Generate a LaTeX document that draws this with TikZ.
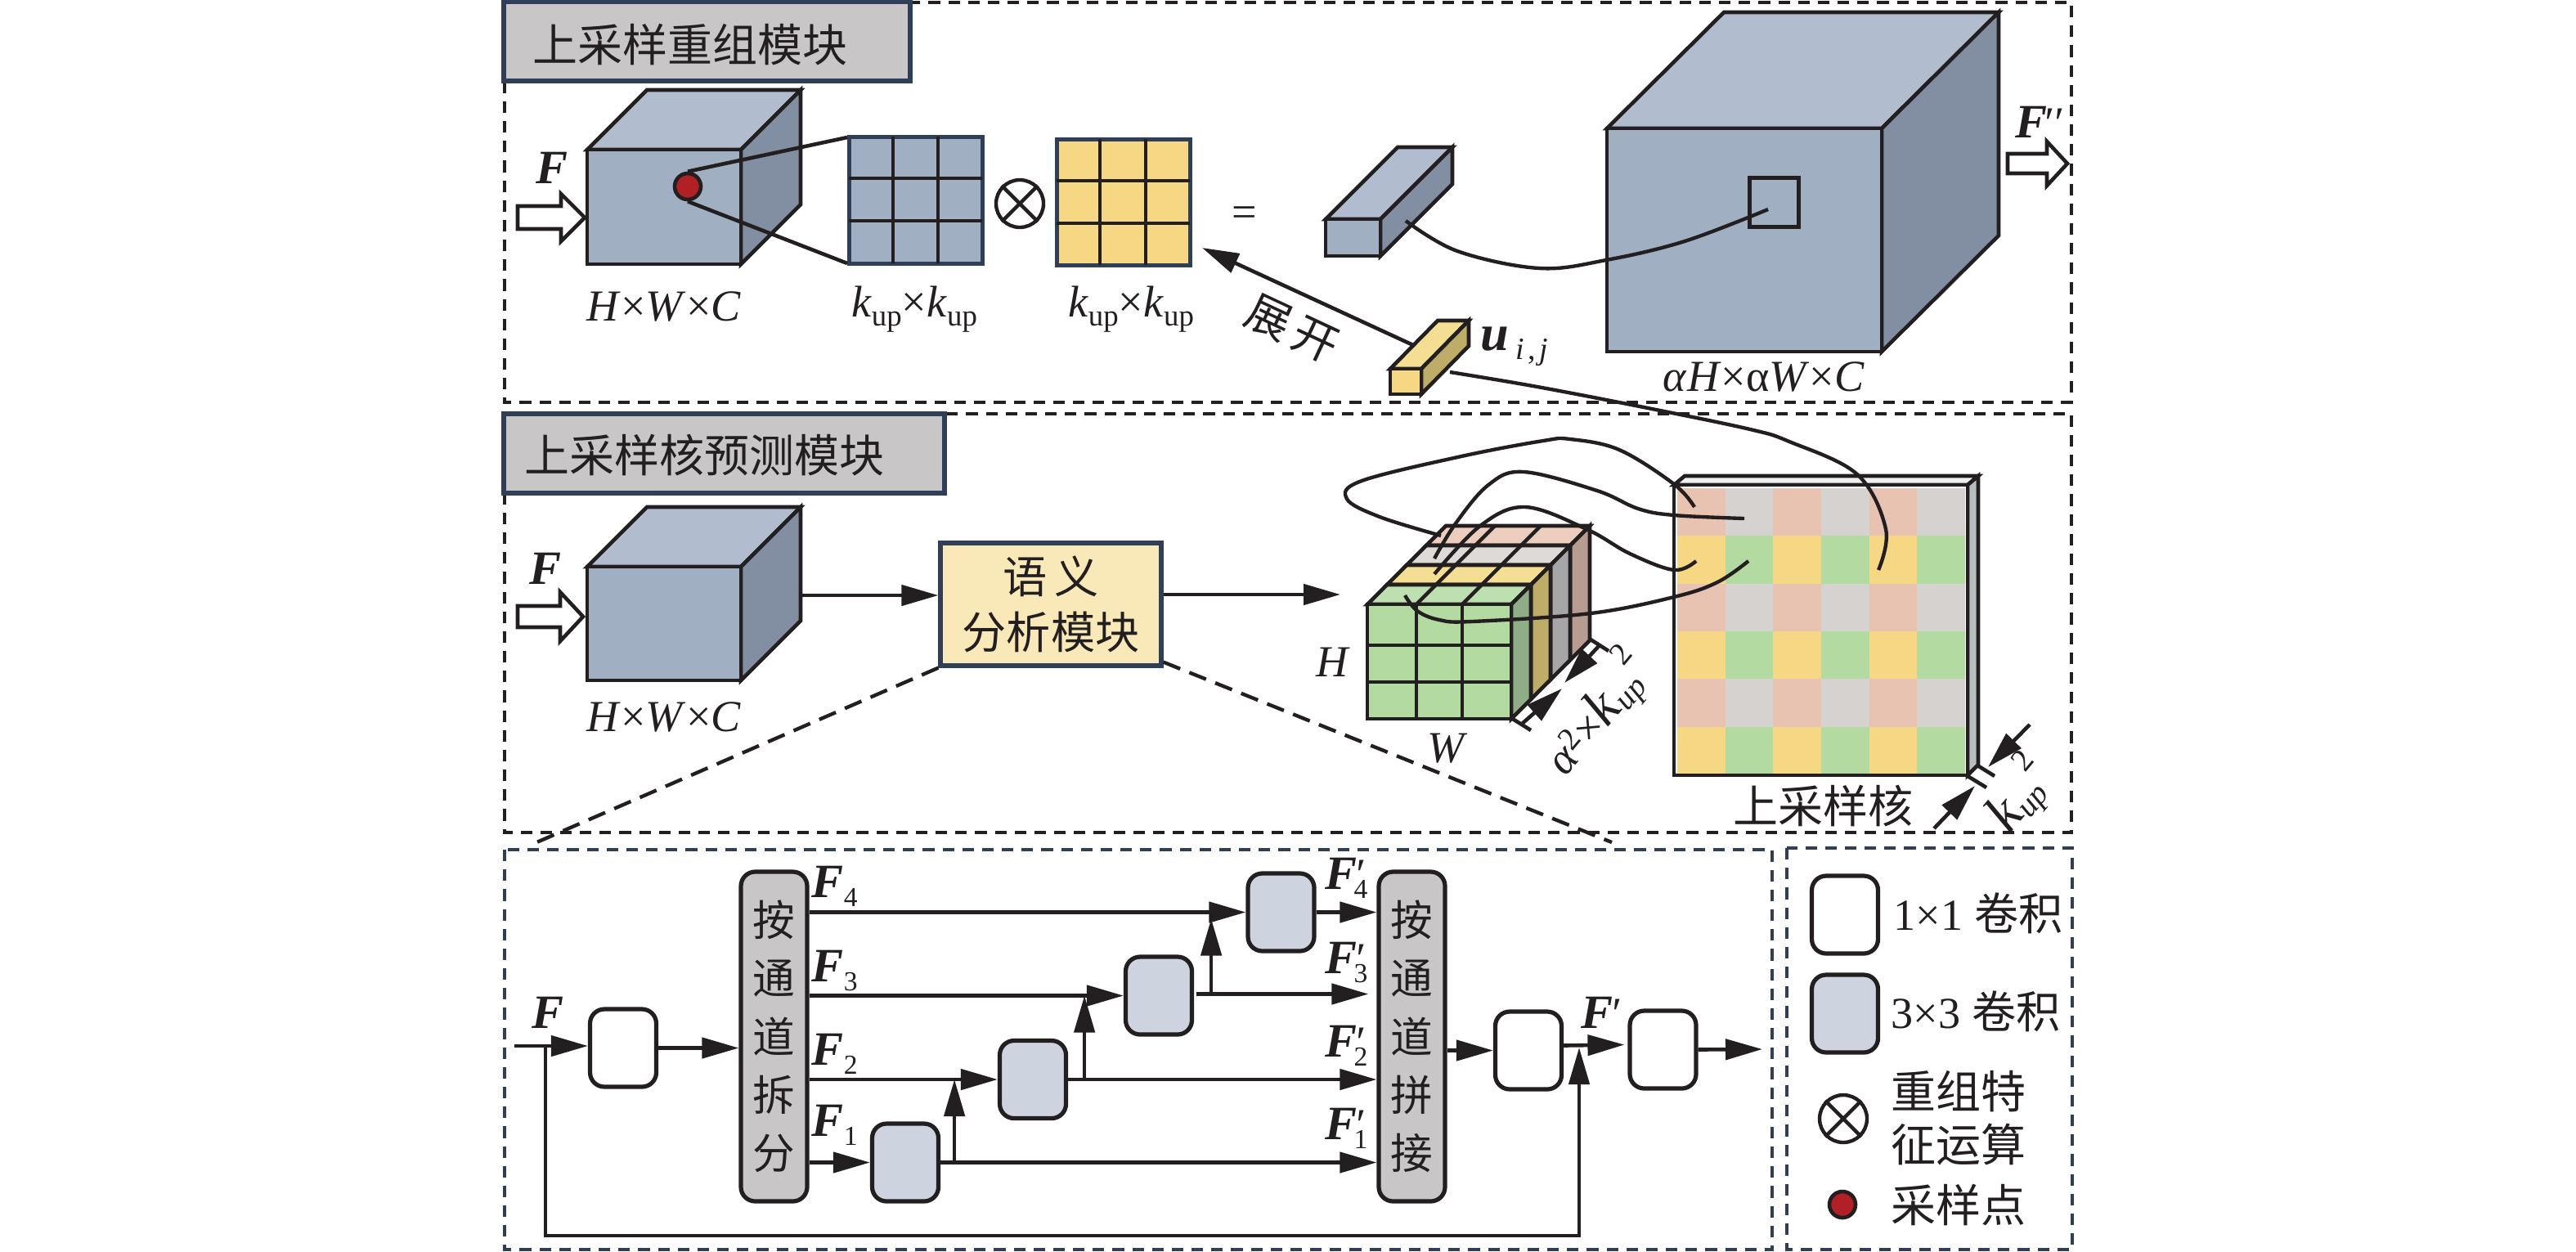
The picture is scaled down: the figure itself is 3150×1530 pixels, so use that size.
\documentclass[tikz,border=0pt]{standalone}
\usepackage{fontspec}
\setmainfont{Liberation Serif}
\newfontfamily\cjkf{Noto Sans CJK SC}
\usetikzlibrary{arrows.meta,calc}
\definecolor{ink}{HTML}{231F20}
\definecolor{navy}{HTML}{2F3F57}
\definecolor{cubeF}{HTML}{A0AFC2}
\definecolor{cubeT}{HTML}{B1BDCE}
\definecolor{cubeS}{HTML}{828EA1}
\definecolor{yelF}{HTML}{F5D784}
\definecolor{yelT}{HTML}{F3DE94}
\definecolor{yelS}{HTML}{BDAD69}
\definecolor{grnF}{HTML}{B3DBA1}
\definecolor{grnT}{HTML}{BDE0B0}
\definecolor{grnS}{HTML}{8FAD86}
\definecolor{gryT}{HTML}{DEDAD7}
\definecolor{gryS}{HTML}{A6A6A8}
\definecolor{pnkT}{HTML}{EDCDBE}
\definecolor{pnkS}{HTML}{B79C90}
\definecolor{pnkC}{HTML}{E9C3B1}
\definecolor{gryC}{HTML}{D6D2D0}
\definecolor{titleG}{HTML}{C8C6C7}
\definecolor{conv}{HTML}{CDD3DF}
\definecolor{semY}{HTML}{F9E9B9}
\definecolor{redD}{HTML}{B02025}
\definecolor{slabT}{HTML}{EEF0F1}
\definecolor{slabS}{HTML}{B8BDC0}
\newcommand{\cuboid}[9]{%
  \draw[solid3d,fill=#8] (#1,#2) -- ++(#5,-#6) -- ++({#3-#1},0) -- (#3,#2) -- cycle;
  \draw[solid3d,fill=#9] (#3,#2) -- ++(#5,-#6) -- ++(0,{#4-#2}) -- (#3,#4) -- cycle;
  \draw[solid3d,fill=#7] (#1,#2) rectangle (#3,#4);}
% hollow arrow: x0, xhead, xtip, yc, shaft half, head half
\newcommand{\hollowarrow}[6]{%
  \draw[solid3d,fill=white] (#1,#4-#5) -- (#2,#4-#5) -- (#2,#4-#6) -- (#3,#4) -- (#2,#4+#6) -- (#2,#4+#5) -- (#1,#4+#5) -- cycle;}
\newcommand{\bF}{\scalebox{1.08}{\textbf{\textit{F}}}}
\newcommand{\subs}[1]{\raisebox{-2.8pt}{\scalebox{.62}{#1}}}
\newcommand{\kup}{\textit{k}\raisebox{-2.6pt}{\scalebox{.68}{up}}}
\newcommand{\kdim}{\scalebox{1.25}{\textit{k}}\raisebox{-1.6pt}{\scalebox{.72}{\textit{up}}}\raisebox{8pt}{\scalebox{.72}{2}}}
\tikzset{
  solid3d/.style={draw=ink,line width=1.1pt,line join=miter},
  frameK/.style={draw=ink,line width=.95pt,dash pattern=on 3.4pt off 2.4pt},
  frameN/.style={draw=navy,line width=.95pt,dash pattern=on 3.4pt off 2.4pt},
  zoomdash/.style={draw=ink,line width=1.05pt,dash pattern=on 5.3pt off 2.9pt},
  titlebox/.style={draw=navy,fill=titleG,line width=1.25pt,inner sep=0pt},
  cjktxt/.style={font=\cjkf\fontsize{13.2}{16}\selectfont,text=ink,inner sep=0pt,align=center},
  lat/.style={font=\fontsize{13}{15}\selectfont,text=ink,inner sep=0pt},
  latb/.style={lat,anchor=base west},
  cell/.style={draw=ink,line width=1.05pt},
  wire/.style={draw=ink,line width=1.1pt,line cap=butt},
  flow/.style={wire,-{Triangle[length=10.8pt,width=6pt]}},
  curve/.style={draw=ink,line width=1.05pt,smooth,tension=.6},
  convbox/.style={draw=ink,line width=1.25pt,rounded corners=4.2pt,minimum width={81*0.24pt},minimum height={95*0.24pt},inner sep=0pt},
  tallbox/.style={draw=ink,line width=1.25pt,fill=titleG,rounded corners=4.2pt,minimum width={81*0.24pt},minimum height={403*0.24pt},inner sep=0pt,
     font=\cjkf\fontsize{12.4}{17.1}\selectfont,align=center,text=ink},
  dotred/.style={circle,draw=ink,fill=redD,line width=1.1pt,minimum size={32*0.24pt},inner sep=0pt},
  otimesn/.style={circle,draw=ink,line width=1.05pt,minimum size={58*0.24pt},inner sep=0pt},
}
\begin{document}
\begin{tikzpicture}[x=0.24pt,y=-0.24pt]
\useasboundingbox (0,0) rectangle (3150,1530);
\fill[white] (0,0) rectangle (3150,1530);
% ---------- frames
\draw[frameK] (617,3) rectangle (2533,492);
\draw[frameK] (617,506) rectangle (2533,1018);
\draw[frameN] (617,1039) rectangle (2167,1528);
\draw[frameN] (2185,1037) rectangle (2534,1528);
% ---------- titles
\node[titlebox,minimum width={497*0.24pt},minimum height={97*0.24pt}] (t1) at (864.5,50.5) {};
\node[cjktxt] (t1t) at (844,55) {上采样重组模块};
\node[titlebox,minimum width={539*0.24pt},minimum height={97*0.24pt}] (t2) at (885.5,554.5) {};
\node[cjktxt] (t2t) at (861,557) {上采样核预测模块};
% ---------- top row
\cuboid{718}{183}{906}{323}{73}{73}{cubeF}{cubeT}{cubeS}
\hollowarrow{633}{686}{715}{266}{14}{29}
\node[lat] (f1) at (675,205) {\bF};
\node[lat] (hwc1) at (812,375) {\textit{H}×\textit{W}×\textit{C}};
% grid 1
\draw[draw=navy,line width=1.2pt,fill=cubeF] (1038,167) rectangle (1201,322);
\draw[cell] (1092,167) -- (1092,322) (1147,167) -- (1147,322) (1038,218) -- (1201,218) (1038,270) -- (1201,270);
\node[dotred] (samp) at (841,228) {};
\coordinate (g1a) at (1036,168);
\coordinate (g1b) at (1036,322);
\draw[wire] (samp.north) -- (g1a);
\draw[wire] (samp.south) -- (g1b);
\node[otimesn] (ot1) at (1247,249) {};
\draw[cell] (ot1.45) -- (ot1.225) (ot1.135) -- (ot1.315);
% grid 2
\draw[draw=navy,line width=1.2pt,fill=yelF] (1292,170) rectangle (1455,324);
\draw[cell] (1345,170) -- (1345,324) (1401,170) -- (1401,324) (1292,221) -- (1455,221) (1292,273) -- (1455,273);
\node[lat] (k1) at (1118,378) {\kup×\kup};
\node[lat] (k2) at (1383,378) {\kup×\kup};
\node[lat] (eq) at (1522,265) {=};
% small cuboid + big cuboid
\cuboid{1621}{268}{1688}{313}{88}{88}{cubeF}{cubeT}{cubeS}
\cuboid{1965}{157}{2301}{430}{143}{142}{cubeF}{cubeT}{cubeS}
\node[draw=ink,line width=1.2pt,minimum width={60*0.24pt},minimum height={60*0.24pt},inner sep=0pt] (win) at (2169.5,247) {};
\coordinate (cA) at (1719,270);
\coordinate (cB) at (2162,256);
\draw[curve] plot coordinates {(cA) (1782,307) (1882,328) (1964,318) (2060,295) (cB)};
\hollowarrow{2455}{2503}{2528}{200}{12}{27}
\node[latb] (f2) at (2464,168) {\bF\rlap{\kern-1.5pt\textit{′′}}};
\node[lat] (ahwc) at (2157,461) {\textit{α}\textit{H}×α\textit{W}×\textit{C}};
% yellow stick
\cuboid{1700}{451}{1738}{482}{58}{59}{yelF}{yelT}{yelS}
\node[latb] (uij) at (1810,428) {\scalebox{1.15}{\textbf{\textit{u}}}\kern2pt\raisebox{-2.8pt}{\scalebox{.7}{\textit{i}\kern1.5pt,\kern1.5pt\textit{j}}}};
\coordinate (uA) at (1728,422);
\coordinate (uB) at (1470,303);
\draw[flow] (uA) -- (uB);
\node[cjktxt,rotate=-25] (zk) at (1580,402) {展\kern2pt开};
% ---------- second row
\cuboid{718}{693}{906}{832}{73}{73}{cubeF}{cubeT}{cubeS}
\hollowarrow{633}{685}{713}{754}{13}{30}
\node[lat] (f3) at (667,695) {\bF};
\node[lat] (hwc2) at (812,877) {\textit{H}×\textit{W}×\textit{C}};
\node[draw=navy,fill=semY,line width=1.25pt,minimum width={270*0.24pt},minimum height={150*0.24pt},inner sep=0pt,
      font=\cjkf\fontsize{13}{16.3}\selectfont,align=center,text=ink] (sem) at (1285,739) {语\kern2pt义\\分析模块};
\coordinate (cubeOut) at (979,728);
\draw[flow] (cubeOut) -- (cubeOut -| sem.west);
\coordinate (stackIn) at (1639,727);
\draw[flow] (sem.east |- stackIn) -- (stackIn);
% dashed zoom lines
\coordinate (zL) at (654,1031);
\coordinate (zR) at (1971,1030);
\draw[zoomdash] (sem.south west) -- (zL);
\draw[zoomdash] ($(sem.south east)+(0,-7)$) -- (zR);
% ---------- layered stack
\foreach \k/\ct/\cs in {3/pnkT/pnkS,2/gryT/gryS,1/yelT/yelS,0/grnT/grnS}{
  \pgfmathsetmacro{\oa}{\k*24}
  \pgfmathsetmacro{\ob}{(\k+1)*24}
  \draw[solid3d,fill=\ct] (1672+\oa,739-\oa) -- (1672+\ob,739-\ob) -- (1848+\ob,739-\ob) -- (1848+\oa,739-\oa) -- cycle;
  \draw[solid3d,fill=\cs] (1848+\oa,739-\oa) -- (1848+\ob,739-\ob) -- (1848+\ob,879-\ob) -- (1848+\oa,879-\oa) -- cycle;
}
\draw[cell] (1732,739) -- (1828,643) (1788,739) -- (1884,643);
\draw[solid3d,fill=grnF] (1672,739) rectangle (1848,879);
\draw[cell] (1732,739) -- (1732,879) (1788,739) -- (1788,879) (1672,789) -- (1848,789) (1672,834) -- (1848,834);
\node[lat] (hlab) at (1630,810) {\textit{H}};
\node[lat] (wlab) at (1770,915) {\textit{W}};
% measure marks of the stack
\coordinate (t1a) at (1848,878); \coordinate (t1b) at (1872,893);
\coordinate (t2a) at (1945,782); \coordinate (t2b) at (1967,796);
\draw[wire] (t1a) -- (t1b) (t2a) -- (t2b);
\coordinate (m1) at (1860,886); \coordinate (m2) at (1956,789);
\coordinate (mTa) at (1910,842); \coordinate (mTb) at (1913,835);
\draw[flow] (m1) -- (mTa);
\draw[flow] (m2) -- (mTb);
\node[lat,rotate=50] (dimA) at (1952,872) {\textit{α}\raisebox{3.5pt}{\scalebox{.72}{2}}×\kdim};
% ---------- kernel slab
\draw[solid3d,fill=slabT] (2047,593) -- (2060,582) -- (2419,582) -- (2406,593) -- cycle;
\draw[solid3d,fill=slabS] (2406,593) -- (2419,582) -- (2419,935) -- (2406,948) -- cycle;
\fill[white] (2047,593) rectangle (2406,948);
\foreach \r in {0,...,5}{
  \foreach \c in {0,...,5}{
    \pgfmathsetmacro{\xa}{2051+\c*58.67}
    \pgfmathsetmacro{\xb}{2051+(\c+1)*58.67}
    \pgfmathsetmacro{\ya}{597+\r*58.33}
    \pgfmathsetmacro{\yb}{597+(\r+1)*58.33}
    \pgfmathtruncatemacro{\rr}{mod(\r,2)}
    \pgfmathtruncatemacro{\cc}{mod(\c,2)}
    \ifnum\rr=0
      \ifnum\cc=0 \fill[pnkC] (\xa,\ya) rectangle (\xb,\yb);\else \fill[gryC] (\xa,\ya) rectangle (\xb,\yb);\fi
    \else
      \ifnum\cc=0 \fill[yelF] (\xa,\ya) rectangle (\xb,\yb);\else \fill[grnF] (\xa,\ya) rectangle (\xb,\yb);\fi
    \fi
  }
}
\draw[solid3d] (2047,593) rectangle (2406,948);
\node[cjktxt] (kern) at (2229,985) {上采样核};
% measure marks of the slab
\coordinate (s1a) at (2418,936); \coordinate (s1b) at (2439,949);
\coordinate (s2a) at (2406,949); \coordinate (s2b) at (2429,963);
\draw[wire] (s1a) -- (s1b) (s2a) -- (s2b);
\coordinate (sTa) at (2482,886); \coordinate (sHa) at (2431,938);
\coordinate (sTb) at (2365,1013); \coordinate (sHb) at (2415,961);
\draw[flow] (sTa) -- (sHa);
\draw[flow] (sTb) -- (sHb);
\node[lat,rotate=50] (dimB) at (2469,972) {\kdim};
% ---------- curves from stack to slab
\coordinate (a0) at (1762,655); \coordinate (a1) at (2072,620);
\coordinate (b0) at (1754,683); \coordinate (b1) at (2133,634);
\coordinate (c0) at (1754,702); \coordinate (c1) at (2074,686);
\coordinate (d0) at (1718,728); \coordinate (d1) at (2138,686);
\coordinate (e0) at (1773,455); \coordinate (e1) at (2297,697);
\draw[curve] plot coordinates {(a0) (1687,632) (1647,610) (1665,588) (1787,558) (1887,539) (1920,537) (1980,550) (2047,592) (a1)};
\draw[curve] plot coordinates {(b0) (1780,640) (1820,593) (1863,577) (1953,600) (2003,622) (2047,630) (b1)};
\draw[curve] plot coordinates {(c0) (1810,643) (1865,620) (1940,647) (1993,677) (2047,697) (c1)};
\draw[curve] plot coordinates {(d0) (1733,747) (1760,758) (1800,760) (1945,750) (2047,730) (2100,712) (d1)};
\draw[curve] plot coordinates {(e0) (1880,473) (2020,500) (2140,525) (2188,540) (2271,580) (2306,647) (e1)};
% ---------- bottom flow
\node[convbox,fill=white] (w1) at (762,1281.5) {};
\node[convbox,fill=conv] (b1n) at (1107,1421.5) {};
\node[convbox,fill=conv] (b2n) at (1263,1320) {};
\node[convbox,fill=conv] (b3n) at (1417,1217.5) {};
\node[convbox,fill=conv] (b4n) at (1566.5,1115.5) {};
\node[tallbox] (split) at (946.5,1267.5) {按\\通\\道\\拆\\分};
\node[tallbox] (concat) at (1726.5,1267.5) {按\\通\\道\\拼\\接};
\node[convbox,fill=white] (w2) at (1869,1284.5) {};
\node[convbox,fill=white] (w3) at (2033.5,1283.5) {};
\coordinate (inF) at (629,1279);
\coordinate (fbL) at (667,1279);
\coordinate (fbDL) at (667,1511);
\coordinate (fbDR) at (1931,1511);
\coordinate (fbR) at (1931,1281);
\coordinate (outF) at (2155,1283);
\draw[flow] (inF) -- (inF -| w1.west);
\draw[flow] (fbL) -- (fbDL) -- (fbDR) -- (fbR);
\draw[flow] (w1.east) -- (w1.east -| split.west);
\draw[flow] (split.east |- b1n.west) -- (b1n.west);
\draw[flow] (split.east |- b2n.west) -- (b2n.west);
\draw[flow] (split.east |- b3n.west) -- (b3n.west);
\draw[flow] (split.east |- b4n.west) -- (b4n.west);
\draw[flow] (b1n.east) -- (b1n.east -| concat.west);
\draw[flow] (b2n.east) -- (b2n.east -| concat.west);
\draw[flow] ($(b3n.east)+(3,-2)$) -- ($(b3n.east -| concat.west)+(-10,-2)$);
\draw[flow] (b4n.east) -- (b4n.east -| concat.west);
\coordinate (u1) at ($(b1n.east)+(17,0)$);
\coordinate (u2) at ($(b2n.east)+(20,0)$);
\coordinate (u3) at ($(b3n.east)+(21,-2)$);
\draw[flow] (u1) -- (u1 |- b2n.west);
\draw[flow] (u2) -- (u2 |- b3n.west);
\draw[flow] (u3) -- ($(u3 |- b4n.west)+(0,8)$);
\draw[flow] (concat.east |- w2.west) -- (w2.west);
\draw[flow] ($(w2.east)+(0,-6)$) -- ($(w3.west)+(-4,-6)$);
\draw[flow] (w3.east) -- (outF);
% flow labels
\node[lat] (fin) at (670,1238) {\bF};
\node[latb] (lf4) at (992,1097) {\bF\subs{4}};
\node[latb] (lf3) at (992,1200) {\bF\subs{3}};
\node[latb] (lf2) at (992,1302) {\bF\subs{2}};
\node[latb] (lf1) at (992,1389) {\bF\subs{1}};
\node[latb] (lg4) at (1620,1087) {\bF\rlap{\kern-1pt\textit{′}}\kern-1pt\subs{4}};
\node[latb] (lg3) at (1620,1190) {\bF\rlap{\kern-1pt\textit{′}}\kern-1pt\subs{3}};
\node[latb] (lg2) at (1620,1292) {\bF\rlap{\kern-1pt\textit{′}}\kern-1pt\subs{2}};
\node[latb] (lg1) at (1620,1393) {\bF\rlap{\kern-1pt\textit{′}}\kern-1pt\subs{1}};
\node[latb] (fp) at (1933,1257) {\bF\kern-1pt\textit{′}};
% ---------- legend
\node[convbox,fill=white] (leg1) at (2256,1118.5) {};
\node[convbox,fill=conv] (leg2) at (2256,1239.5) {};
\node[lat,anchor=west] (leg1t) at (2315,1117) {1×1 {\cjkf 卷积}};
\node[lat,anchor=west] (leg2t) at (2312,1237) {3×3 {\cjkf 卷积}};
\node[otimesn] (ot2) at (2254,1368) {};
\draw[cell] (ot2.45) -- (ot2.225) (ot2.135) -- (ot2.315);
\node[cjktxt,anchor=west,font=\cjkf\fontsize{13.2}{15.6}\selectfont] (leg3t) at (2312,1367) {重组特\\征运算};
\node[dotred] (leg4) at (2253,1473) {};
\node[cjktxt,anchor=west] (leg4t) at (2312,1473) {采样点};
\end{tikzpicture}
\end{document}
